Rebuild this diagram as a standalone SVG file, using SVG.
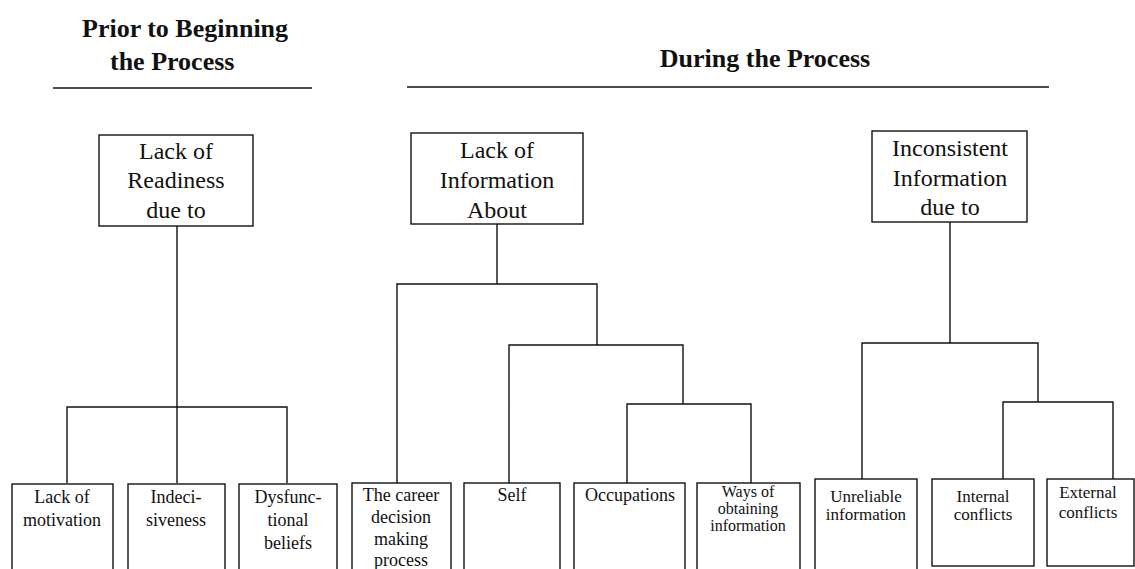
<svg xmlns="http://www.w3.org/2000/svg" width="1135" height="569" viewBox="0 0 1135 569">
<style>
.hd{font-family:"Liberation Serif","Times New Roman",serif;font-weight:bold;font-size:26px;fill:#111}
.tp{font-family:"Liberation Serif","Times New Roman",serif;font-size:24px;fill:#111;text-anchor:middle}
.lf{font-family:"Liberation Serif","Times New Roman",serif;font-size:18px;fill:#111;text-anchor:middle}
.sm{font-family:"Liberation Serif","Times New Roman",serif;font-size:17px;fill:#111;text-anchor:middle}
.xs{font-family:"Liberation Serif","Times New Roman",serif;font-size:16px;fill:#111;text-anchor:middle}
.box{fill:#fff;stroke:#111;stroke-width:1.4}
.ln{fill:none;stroke:#111;stroke-width:1.4}
</style>
<rect width="1135" height="569" fill="#fff"/>
<g id="headers">
<text class="hd" x="82" y="37">Prior to Beginning</text>
<text class="hd" x="110" y="70">the Process</text>
<line class="ln" x1="53" y1="88" x2="312" y2="88"/>
<text class="hd" x="765" y="67" text-anchor="middle">During the Process</text>
<line class="ln" x1="407" y1="87" x2="1049" y2="87"/>
</g>
<g id="connectors">
<path class="ln" d="M177 226V407M67 483V407H287V483M177 407V483"/>
<path class="ln" d="M497 224V284M397 483V284H597V345M509 483V345H683V404M627 483V404H751V483"/>
<path class="ln" d="M950 222V343M862 479V343H1038V402M1003 479V402H1113V479"/>
</g>
<g id="n-readiness">
<rect class="box" x="99" y="135" width="154" height="91"/>
<text class="tp" x="176" y="159">Lack of</text>
<text class="tp" x="176" y="188">Readiness</text>
<text class="tp" x="176" y="218">due to</text>
</g>
<g id="n-information">
<rect class="box" x="411" y="133" width="172" height="91"/>
<text class="tp" x="497" y="158">Lack of</text>
<text class="tp" x="497" y="188">Information</text>
<text class="tp" x="497" y="218">About</text>
</g>
<g id="n-inconsistent">
<rect class="box" x="872" y="131" width="155" height="91"/>
<text class="tp" x="950" y="156">Inconsistent</text>
<text class="tp" x="950" y="186">Information</text>
<text class="tp" x="950" y="215">due to</text>
</g>
<g id="n-motivation">
<rect class="box" x="12" y="484" width="101" height="95"/>
<text class="lf" x="62" y="503">Lack of</text>
<text class="lf" x="62" y="526">motivation</text>
</g>
<g id="n-indecisiveness">
<rect class="box" x="128" y="484" width="97" height="95"/>
<text class="lf" x="176" y="503">Indeci-</text>
<text class="lf" x="176" y="526">siveness</text>
</g>
<g id="n-dysfunctional">
<rect class="box" x="239" y="484" width="98" height="95"/>
<text class="lf" x="288" y="503">Dysfunc-</text>
<text class="lf" x="288" y="526">tional</text>
<text class="lf" x="288" y="549">beliefs</text>
</g>
<g id="n-career">
<rect class="box" x="352" y="483" width="99" height="95"/>
<text class="lf" x="401" y="501">The career</text>
<text class="lf" x="401" y="523">decision</text>
<text class="lf" x="401" y="545">making</text>
<text class="lf" x="401" y="566">process</text>
</g>
<g id="n-self">
<rect class="box" x="464" y="483" width="96" height="95"/>
<text class="lf" x="512" y="501">Self</text>
</g>
<g id="n-occupations">
<rect class="box" x="574" y="483" width="111" height="95"/>
<text class="lf" x="630" y="501">Occupations</text>
</g>
<g id="n-ways">
<rect class="box" x="697" y="483" width="103" height="95"/>
<text class="xs" x="748" y="497">Ways of</text>
<text class="xs" x="748" y="514">obtaining</text>
<text class="xs" x="748" y="531">information</text>
</g>
<g id="n-unreliable">
<rect class="box" x="815" y="479" width="102" height="100"/>
<text class="sm" x="866" y="502">Unreliable</text>
<text class="sm" x="866" y="520">information</text>
</g>
<g id="n-internal">
<rect class="box" x="932" y="479" width="102" height="87"/>
<text class="sm" x="983" y="502">Internal</text>
<text class="sm" x="983" y="520">conflicts</text>
</g>
<g id="n-external">
<rect class="box" x="1047" y="479" width="87" height="87"/>
<text class="sm" x="1088" y="498">External</text>
<text class="sm" x="1088" y="518">conflicts</text>
</g>
</svg>
